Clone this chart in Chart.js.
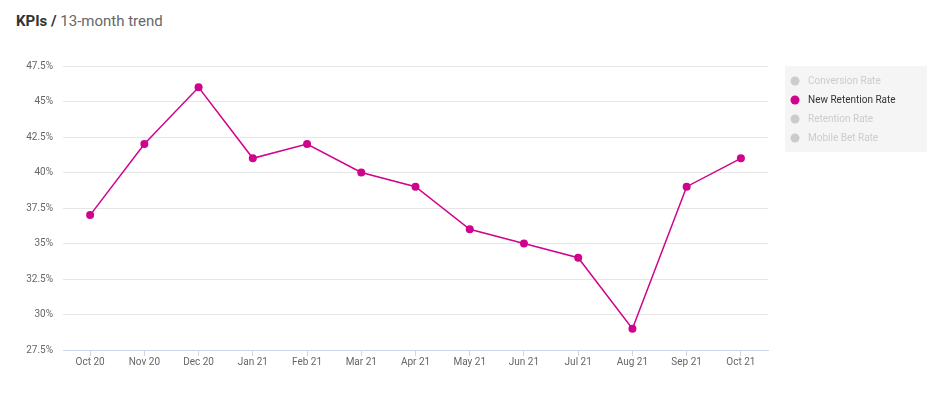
<!DOCTYPE html>
<html>
<head>
<meta charset="utf-8">
<script src="https://cdn.jsdelivr.net/npm/chart.js@4"></script>
<style>
  html,body{margin:0;padding:0;background:#fff;}
  #wrap{position:relative;width:939px;height:393px;}
  #title{position:absolute;left:16px;top:12px;font-family:Roboto,sans-serif;font-size:15px;color:#666;}
  #title b{color:#333;font-weight:700;}
  canvas{position:absolute;left:0;top:0;}
</style>
</head>
<body>
<div id="wrap">
  <div id="title"><b>KPIs /</b> 13-month trend</div>
  <canvas id="c" width="939" height="393"></canvas>
</div>
<script>
const categories = ['Oct 20','Nov 20','Dec 20','Jan 21','Feb 21','Mar 21','Apr 21','May 21','Jun 21','Jul 21','Aug 21','Sep 21','Oct 21'];
const newRetentionRate = [37, 42, 46, 41, 42, 40, 39, 36, 35, 34, 29, 39, 41];
const yTicks = [27.5, 30, 32.5, 35, 37.5, 40, 42.5, 45, 47.5];
const legendNames = ['Conversion Rate', 'New Retention Rate', 'Retention Rate', 'Mobile Bet Rate'];
const legendActive = [false, true, false, false];

const MAGENTA = '#d0038c';

const legendBox = {
  id: 'legendBox',
  afterDraw(chart) {
    const ctx = chart.ctx;
    ctx.save();
    const x0 = 785, y0 = 66, w = 142, h = 86;
    ctx.fillStyle = '#f5f5f5';
    ctx.fillRect(x0, y0, w, h);
    ctx.font = '10px Roboto, sans-serif';
    ctx.textBaseline = 'middle';
    legendNames.forEach((name, i) => {
      const cy = 81 + i * 19;
      ctx.beginPath();
      ctx.arc(795, cy, 4.5, 0, Math.PI * 2);
      ctx.fillStyle = legendActive[i] ? MAGENTA : '#cccccc';
      ctx.fill();
      ctx.fillStyle = legendActive[i] ? '#333333' : '#cccccc';
      ctx.fillText(name, 808, cy + 0.5);
    });
    ctx.restore();
  }
};

new Chart(document.getElementById('c'), {
  type: 'line',
  data: {
    labels: categories,
    datasets: [{
      label: 'New Retention Rate',
      data: newRetentionRate,
      borderColor: MAGENTA,
      backgroundColor: MAGENTA,
      borderWidth: 1.5,
      pointRadius: 4,
      pointHoverRadius: 5,
      pointBorderWidth: 0,
      tension: 0,
      fill: false
    }]
  },
  options: {
    responsive: false,
    animation: false,
    devicePixelRatio: 1,
    layout: { padding: { left: 0, right: 171, top: 66, bottom: 25 } },
    plugins: { legend: { display: false }, tooltip: { enabled: false }, title: { display: false } },
    scales: {
      x: {
        offset: true,
        grid: { offset: false, drawOnChartArea: false, drawTicks: true, tickLength: 6, color: '#ccd6eb' },
        border: { display: true, color: '#ccd6eb', width: 1 },
        ticks: { color: '#666', font: { family: 'Roboto, sans-serif', size: 10 }, padding: 0, maxRotation: 0, autoSkip: false }
      },
      y: {
        min: 27.5,
        max: 47.5,
        afterBuildTicks(scale) { scale.ticks = yTicks.map(v => ({ value: v })); },
        afterFit(scale) { scale.width = 63; },
        grid: { color: '#e6e6e6', drawTicks: false },
        border: { display: false },
        ticks: { color: '#666', font: { family: 'Roboto, sans-serif', size: 10 }, padding: 10, callback: v => v + '%' }
      }
    }
  },
  plugins: [legendBox]
});
</script>
</body>
</html>
